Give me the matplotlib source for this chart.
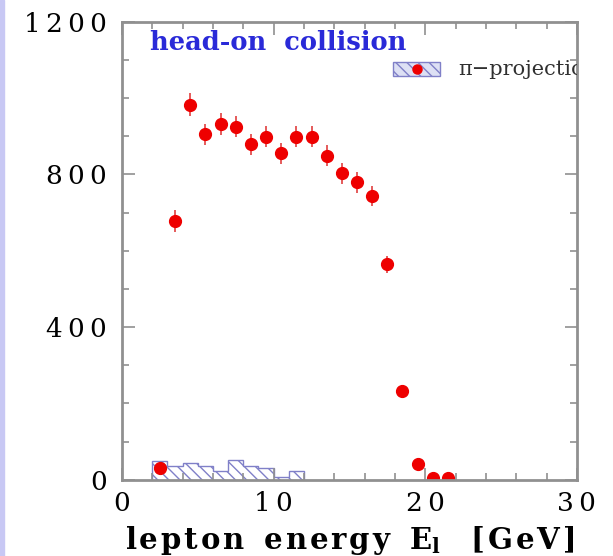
import numpy as np
import matplotlib.pyplot as plt
from matplotlib.ticker import MultipleLocator, FuncFormatter

# red points: lepton energy spectrum (bin centres, counts)
energy = [2.5, 3.5, 4.5, 5.5, 6.5, 7.5, 8.5, 9.5, 10.5, 11.5,
          12.5, 13.5, 14.5, 15.5, 16.5, 17.5, 18.5, 19.5, 20.5, 21.5]
counts = [30, 678, 983, 905, 932, 925, 879, 899, 855, 899,
          899, 849, 803, 779, 743, 565, 233, 41, 5, 4]
count_err = [10, 28, 30, 28, 30, 28, 28, 28, 28, 28,
             28, 28, 28, 28, 26, 22, 14, 8, 3, 3]

# hatched pi-projection histogram
pi_edges = [2, 3, 4, 5, 6, 7, 8, 9, 10, 11, 12]
pi_counts = [50, 35, 45, 35, 22, 52, 35, 30, 8, 22]

plt.rcParams['font.family'] = ['DejaVu Serif']


def spaced(s, sp='\u2009'):
    # the original lettering is widely tracked
    return sp.join(s)


fig = plt.figure(figsize=(6.13, 5.56), dpi=100)
ax = fig.add_axes([0.199, 0.137, 0.742, 0.824])

ax.stairs(pi_counts, pi_edges, fill=False, edgecolor='#8080c8', hatch='\\\\\\',
          linewidth=1.0)
ax.errorbar(energy, counts, yerr=count_err, xerr=0.3, fmt='o', color='#ee0000',
            ecolor='#e04040', markersize=8.5, elinewidth=1.2, capsize=0)

ax.set_xlim(0, 30)
ax.set_ylim(0, 1200)
ax.xaxis.set_major_locator(MultipleLocator(10))
ax.xaxis.set_minor_locator(MultipleLocator(2))
ax.yaxis.set_major_locator(MultipleLocator(400))
ax.yaxis.set_minor_locator(MultipleLocator(100))
fmt = FuncFormatter(lambda v, p: spaced('%d' % v))
ax.xaxis.set_major_formatter(fmt)
ax.yaxis.set_major_formatter(fmt)
ax.tick_params(which='both', direction='in', top=True, right=True,
               color='#909090', labelsize=19)
ax.tick_params(axis='y', pad=11)
ax.tick_params(axis='x', pad=8)
ax.tick_params(which='major', length=9, width=1.2)
ax.tick_params(which='minor', length=5, width=1.2)
for s in ax.spines.values():
    s.set_color('#909090')
    s.set_linewidth(2)

hs = '\u200a'
ax.set_xlabel(spaced('lepton', hs) + '  ' + spaced('energy', hs)
              + '  E$_\\mathregular{l}$' + '   ' + spaced('[GeV]', hs),
              fontsize=21, fontweight='bold', labelpad=6)

ax.text(0.062, 0.955, 'head-on  collision', transform=ax.transAxes,
        color='#2a2ad8', fontsize=18.5, fontweight='bold', va='center')

# legend entry for pi projection, clipped at the frame like the original
ax.add_patch(plt.Rectangle((0.595, 0.882), 0.105, 0.03, transform=ax.transAxes,
                           facecolor='#dde0f4', edgecolor='#8080c8',
                           hatch='\\\\\\', linewidth=1.0))
ax.plot([0.648], [0.897], 'o', color='#ee0000', markersize=6.5,
        transform=ax.transAxes)
ax.text(0.74, 0.895, 'π−projection', transform=ax.transAxes, fontsize=15,
        va='center', color='#303030', clip_on=True)

# lavender strip at the left edge
fig.patches.append(plt.Rectangle((0, 0), 0.006, 1, transform=fig.transFigure,
                                 color='#c8c8f4'))

fig.savefig('out.png', dpi=100)
